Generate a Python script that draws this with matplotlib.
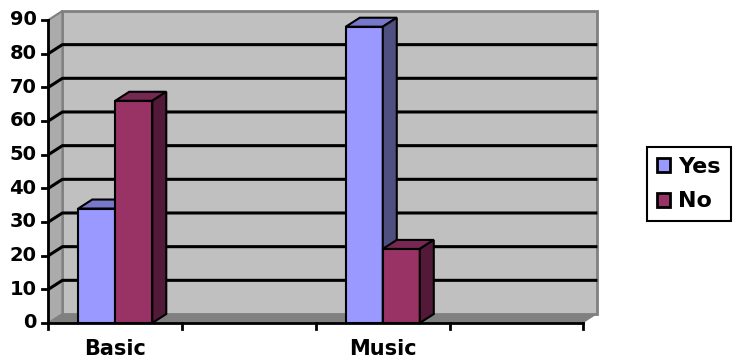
import numpy as np
import matplotlib
matplotlib.use("Agg")
import matplotlib.pyplot as plt
from matplotlib.patches import Polygon, Patch

# data
categories = ["Basic", "Music"]
cat_pos = [0, 2]              # two empty slots share the axis with them
yes_vals = [34, 88]
no_vals = [66, 22]
y_ticks = [0, 10, 20, 30, 40, 50, 60, 70, 80, 90]
series_names = ["Yes", "No"]

yes_col = ("#9999FF", "#7777CC", "#4F4F80")   # front, top, side
no_col = ("#993366", "#772852", "#521A38")

plt.rcParams['font.family'] = ['DejaVu Sans']
plt.rcParams['font.weight'] = 'bold'

fig = plt.figure(figsize=(7.34, 3.61), dpi=100)
ax = fig.add_axes([0, 0, 1, 1])
ax.axis('off')

# pixel mapping: x=-0.5 at 48.4 px, 133.75 px per slot; y=0 at 323 px, 3.367 px per unit
ppx = 133.75
ppy = 3.367
ax.set_xlim(-0.5 - 48.4 / ppx, -0.5 + (734 - 48.4) / ppx)
ax.set_ylim((323 - 361) / ppy, 323 / ppy)

dx = 14 / ppx
dy = 9 / ppy
x0, x1 = -0.5, 3.5
ymax = 90
bw = 37 / ppx

# walls and floor
ax.add_patch(Polygon([(x0 + dx, dy), (x1 + dx, dy), (x1 + dx, ymax + dy), (x0 + dx, ymax + dy)],
                     closed=True, facecolor="#C0C0C0", edgecolor="#808080", lw=2, zorder=1))
ax.add_patch(Polygon([(x0, 0), (x0 + dx, dy), (x0 + dx, ymax + dy), (x0, ymax)],
                     closed=True, facecolor="#ABABAB", edgecolor="#808080", lw=1.5, zorder=1))
ax.add_patch(Polygon([(x0, 0), (x1, 0), (x1 + dx, dy), (x0 + dx, dy)],
                     closed=True, facecolor="#808080", edgecolor="none", zorder=1))

# gridlines on side wall and back wall
for v in y_ticks[1:-1]:
    ax.plot([x0, x0 + dx, x1 + dx], [v, v + dy, v + dy], color="black", lw=2.2,
            solid_capstyle='butt', zorder=2)

# axes lines and ticks
ax.plot([x0, x0], [0, ymax], color="black", lw=2, zorder=5)
ax.plot([x0, x1], [0, 0], color="black", lw=2, zorder=5)
for v in y_ticks:
    ax.plot([x0 - 6 / ppx, x0], [v, v], color="black", lw=2, zorder=5)
    ax.text(x0 - 12 / ppx, v, str(v), ha='right', va='center', fontsize=14,
            fontweight='bold')
for t in np.arange(x0, x1 + 0.01, 1.0):
    ax.plot([t, t], [0, -6 / ppy], color="black", lw=2, zorder=5)
for p, name in zip(cat_pos, categories):
    ax.text(p, -7.7, name, ha='center', va='center', fontsize=15, fontweight='bold')


def bar3d(xl, val, cols):
    ax.bar(xl, val, bw, align='edge', color=cols[0], edgecolor="black", lw=1.5, zorder=3)
    ax.add_patch(Polygon([(xl, val), (xl + bw, val), (xl + bw + dx, val + dy), (xl + dx, val + dy)],
                         closed=True, facecolor=cols[1], edgecolor="black", lw=1.5, zorder=3))
    ax.add_patch(Polygon([(xl + bw, 0), (xl + bw + dx, dy), (xl + bw + dx, val + dy), (xl + bw, val)],
                         closed=True, facecolor=cols[2], edgecolor="black", lw=1.5, zorder=3))


for p, yv, nv in zip(cat_pos, yes_vals, no_vals):
    bar3d(p - bw, yv, yes_col)
    bar3d(p, nv, no_col)

handles = [Patch(facecolor=yes_col[0], edgecolor="black", lw=2),
           Patch(facecolor=no_col[0], edgecolor="black", lw=2)]
leg = fig.legend(handles, series_names, loc='upper left',
                 bbox_to_anchor=(647 / 734, 1 - 147 / 361), frameon=True, fancybox=False,
                 edgecolor="black", framealpha=1, borderaxespad=0, handlelength=0.6,
                 handleheight=0.6, handletextpad=0.35, labelspacing=0.65, borderpad=0.45,
                 prop={'size': 16, 'weight': 'bold'})
leg.get_frame().set_linewidth(1.5)

fig.savefig("out.png", dpi=100)
